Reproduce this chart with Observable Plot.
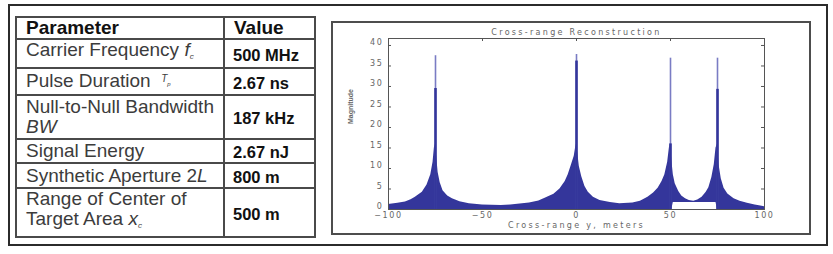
<!DOCTYPE html>
<html><head><meta charset="utf-8">
<script src="https://cdn.jsdelivr.net/npm/d3@7"></script>
<script src="https://cdn.jsdelivr.net/npm/@observablehq/plot@0.6"></script>
<style>
html,body{margin:0;padding:0;background:#fff;width:833px;height:254px;overflow:hidden;position:relative;}
#outer{position:absolute;left:8px;top:4px;width:816px;height:238px;border:2px solid #2b2b2b;}
#tbl{position:absolute;left:15px;top:16px;width:299px;border-collapse:collapse;table-layout:fixed;
  font-family:"Liberation Sans",Arial,sans-serif;border:2px solid #3a3a3a;}
#tbl td,#tbl th{border:2px solid #4a4a4a;padding:0 0 0 9px;vertical-align:middle;overflow:hidden;white-space:nowrap;}
#tbl th{font-size:19px;font-weight:bold;color:#111;text-align:left;line-height:20px;}
#tbl td.p{font-size:19px;color:#3c3c3c;line-height:20px;}
#tbl td.v{font-size:16.5px;font-weight:bold;color:#111;padding-left:8px;padding-top:3px;}
.sub{font-size:8px;vertical-align:-3px;font-style:italic;}
#fig{position:absolute;left:331px;top:21px;width:476px;height:210px;border:2px solid #4d4d4d;}
#fig svg{position:absolute;left:0;top:0;}
</style></head>
<body>
<div id="outer"></div>
<table id="tbl">
<colgroup><col style="width:208px"><col style="width:91px"></colgroup>
<tr id="r0" style="height:22px"><th>Parameter</th><th>Value</th></tr>
<tr id="r1" style="height:26px"><td class="p"></td><td class="v"></td></tr>
<tr id="r2" style="height:23px"><td class="p"></td><td class="v"></td></tr>
<tr id="r3" style="height:44px"><td class="p"></td><td class="v"></td></tr>
<tr id="r4" style="height:23px"><td class="p"></td><td class="v"></td></tr>
<tr id="r5" style="height:25px"><td class="p"></td><td class="v"></td></tr>
<tr id="r6" style="height:48px"><td class="p"></td><td class="v"></td></tr>
</table>
<div id="fig"></div>
<script>
// ---- table content ----
const paramNames = [
  'Carrier Frequency <i>f</i><span class="sub">c</span>',
  'Pulse Duration &nbsp;<i style="font-size:10px;vertical-align:5px">T</i><span class="sub" style="font-size:6px;vertical-align:1px">p</span>',
  'Null-to-Null Bandwidth<br><i>BW</i>',
  'Signal Energy',
  'Synthetic Aperture 2<i>L</i>',
  'Range of Center of<br>Target Area <i>x</i><span class="sub">c</span>'
];
const paramValues = ["500 MHz", "2.67 ns", "187 kHz", "2.67 nJ", "800 m", "500 m"];

// ---- chart data ----
const chartTitle = "Cross-range Reconstruction";
const xLabel = "Cross-range y, meters";
const yLabel = "Magnitude";
const xTicks = [-100, -50, 0, 50, 100];
const yTicks = [0, 5, 10, 15, 20, 25, 30, 35, 40];

// envelope of the dense oscillating response
const envX  = [-100,-95,-91,-88,-85.7,-82,-79.5,-77.5,-76.3,-75.6,-75,-74.4,-73.6,-72.5,-71,-68.5,-66,-62,-57,-50,-40,-35,-25,-20,-15.8,-12,-8.8,-6,-4.4,-2.6,-1.2,-0.5,0,0.6,1.5,2.8,4.5,6.3,9,12.5,18,23,30,34,38,41,43.4,45.5,47,48.5,49.4,50,50.7,51.5,52.5,54.4,56,58,60,62.4,64.5,66.8,69,70.4,72,73.3,74.2,75,75.8,77,78.5,80.5,83.8,87,90.9,95,98,100];
const envHi = [1.2,1.5,1.8,2.4,3.0,4.2,6.0,8.5,11.5,15,16,13,9,6.5,4.6,3.3,2.6,1.9,1.4,1.1,1.0,1.1,1.6,2.1,2.9,3.7,5.0,6.8,8.5,11,13,15,16,14,10.5,8,5.6,4.2,3.0,2.2,1.7,1.4,1.6,2.0,3.0,4.0,5.2,6.8,8.5,11.5,15,16,12,8.5,6.3,4.4,3.3,2.6,2.2,2.0,2.3,3.0,4.2,5.3,7.8,11,15,16,11,7.5,5.2,3.8,2.6,2.0,1.5,1.1,0.85,0.7];
const envLo = [0,0,0,0,0,0,0,0,0,0,0,0,0,0,0,0,0,0,0,0,0,0,0,0,0,0,0,0,0,0,0,0,0,0,0,0,0,0,0,0,0,0,0,0,0,0,0,0,0,0,0,0,0,1.7,1.7,1.7,1.7,1.7,1.7,1.7,1.7,1.7,1.7,1.7,1.7,1.7,1.7,0,0,0,0,0,0,0,0,0,0,0];

// point-target peaks
const peakX    = [-75, 0, 50, 75];
const peakTop  = [37.5, 37.8, 36.9, 36.9];
const peakCore = [29.5, 36.2, 16, 29.3];

// fill table
paramNames.forEach((n, i) => {
  const tr = document.getElementById("r" + (i + 1));
  tr.children[0].innerHTML = n;
  tr.children[1].textContent = paramValues[i];
});

const env = envX.map((x, i) => ({x, hi: envHi[i], lo: envLo[i]}));
const peaks = peakX.map((x, i) => ({x, top: peakTop[i], core: peakCore[i]}));

const BLUE = "#34369b";
const LIGHT = "#7a7cc4";
const AX = "#555";
const W = 476, H = 210, ML = 55, MR = 45, MT = 15, MB = 24;
const iw = W - ML - MR, ih = H - MT - MB;

const chart = Plot.plot({
  width: W, height: H,
  marginLeft: ML, marginRight: MR, marginTop: MT, marginBottom: MB,
  x: {domain: [-100, 100]},
  y: {domain: [0, 41.7]},
  style: {background: "transparent", fontFamily: "DejaVu Sans, sans-serif", fontSize: "8px", color: "#666", overflow: "visible"},
  marks: [
    Plot.areaY(env, {x: "x", y1: "lo", y2: "hi", fill: BLUE, curve: "linear"}),
    Plot.ruleX(peaks, {x: "x", y1: 0, y2: "top", stroke: LIGHT, strokeWidth: 1.6}),
    Plot.ruleX(peaks, {x: "x", y1: 0, y2: "core", stroke: BLUE, strokeWidth: 2.6}),
    Plot.frame({stroke: AX, strokeWidth: 1}),
    Plot.tickY(yTicks, {y: d => d, insetRight: iw - 3, stroke: AX}),
    Plot.tickY(yTicks, {y: d => d, insetLeft: iw - 3, stroke: AX}),
    Plot.tickX(xTicks, {x: d => d, insetBottom: ih - 3, stroke: AX}),
    Plot.axisY(yTicks, {anchor: "left", tickSize: 0, tickPadding: 5, label: null, fill: "#666", dy: -3}),
    Plot.axisX(xTicks, {anchor: "bottom", tickSize: 0, tickPadding: 3, label: null, fill: "#666"}),
    Plot.text([chartTitle], {text: d => d, frameAnchor: "top", dy: -9, fill: "#666", fontSize: 8}),
    Plot.text([xLabel], {text: d => d, frameAnchor: "bottom", dy: 18.5, fill: "#666", fontSize: 8}),
    Plot.text([yLabel], {text: d => d, frameAnchor: "left", rotate: -90, dx: -38, fill: "#666", fontSize: 7, fontFamily: "Liberation Sans, Arial, sans-serif", fontWeight: "bold"})
  ]
});
document.getElementById("fig").appendChild(chart);

// letter spacing for the low-resolution, wide-looking labels
d3.select(chart).selectAll('g[aria-label="y-axis tick label"] text, g[aria-label="x-axis tick label"] text')
  .style("letter-spacing", "1.6px");
const texts = chart.querySelectorAll('g[aria-label="text"]');
if (texts[0]) texts[0].style.letterSpacing = "2.3px";
if (texts[1]) texts[1].style.letterSpacing = "2.3px";
</script>
</body></html>
